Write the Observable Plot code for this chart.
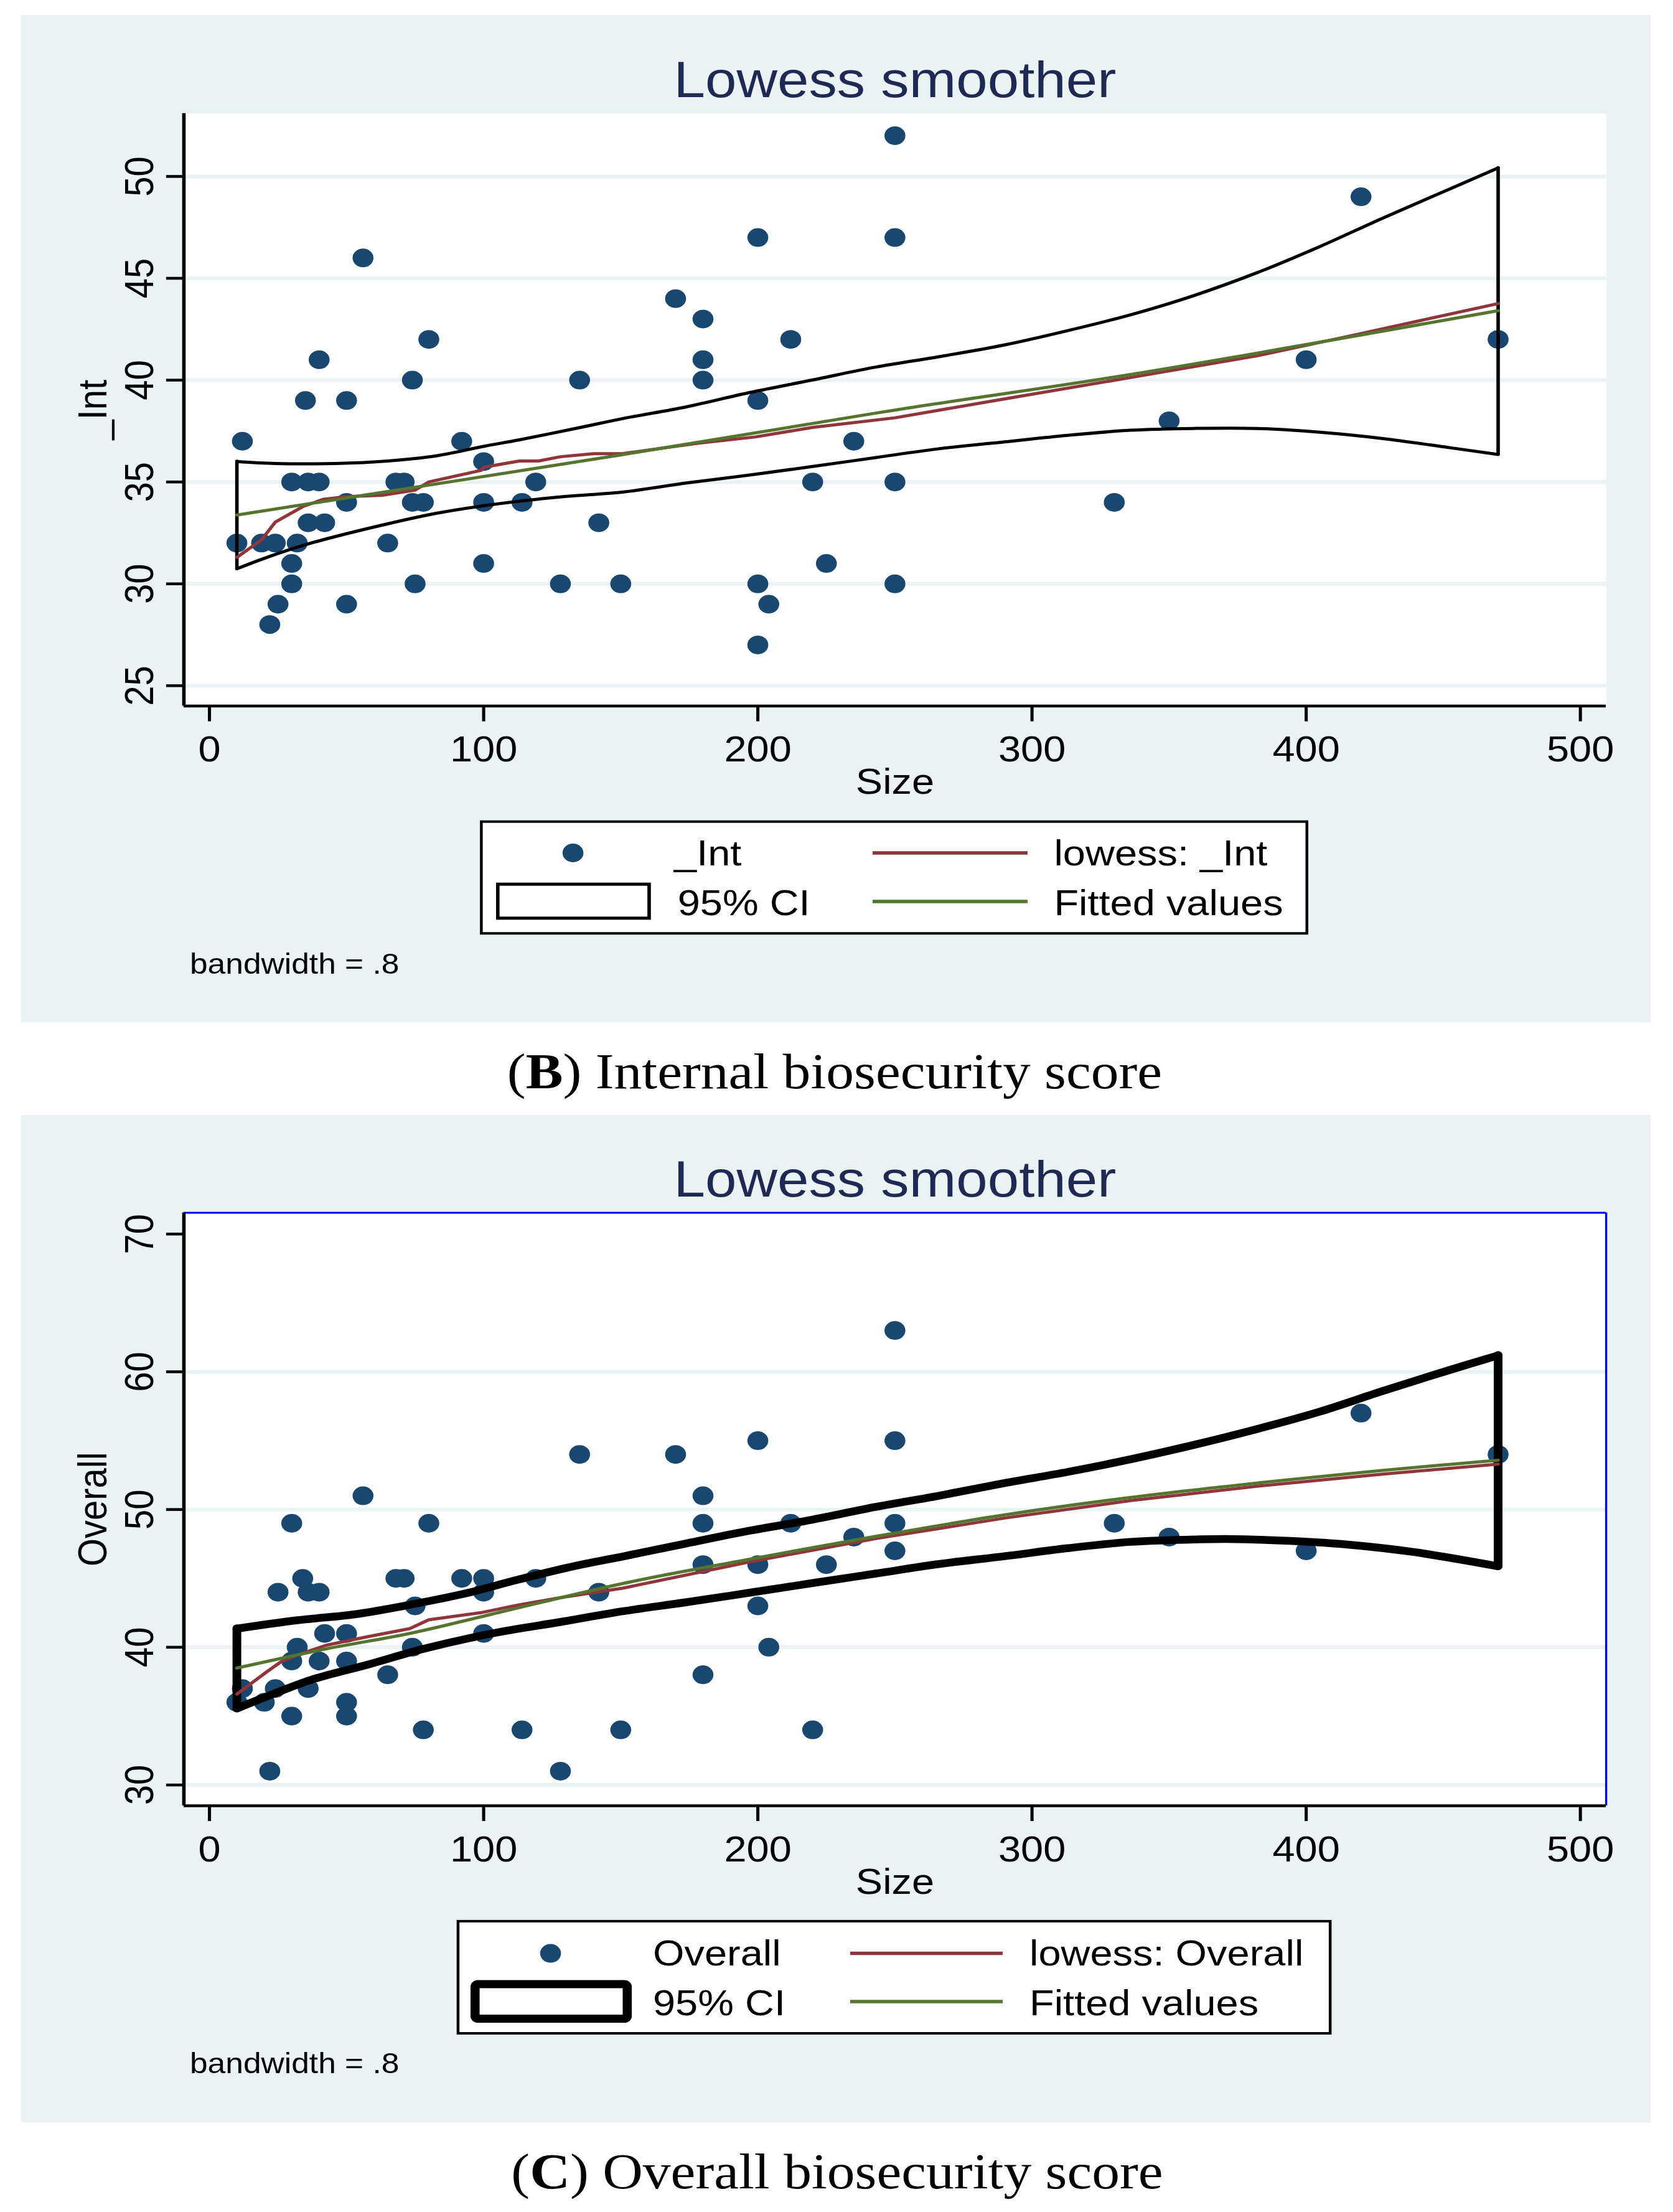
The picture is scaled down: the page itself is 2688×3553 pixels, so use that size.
<!DOCTYPE html>
<html><head><meta charset="utf-8">
<script src="https://cdn.jsdelivr.net/npm/d3@7"></script>
<script src="https://cdn.jsdelivr.net/npm/@observablehq/plot@0.6"></script>
<style>
html,body{margin:0;padding:0;background:#fff;}
body{width:2688px;height:3553px;overflow:hidden;position:relative;}
#wrap{position:absolute;left:0;top:0;width:2400px;height:3553px;transform:scaleX(1.12);transform-origin:0 0;}
#deco{position:absolute;left:0;top:0;}
.plot{position:absolute;left:0;}
</style></head><body>
<div id="wrap">
<svg id="deco" width="2400" height="3553" viewBox="0 0 2400 3553" font-family="'Liberation Sans', Arial, sans-serif">
  <rect x="30.4" y="24" width="2337.5" height="1618" fill="#eaf2f3"/>
  <rect x="30.4" y="1791" width="2337.5" height="1618" fill="#eaf2f3"/>
  <!-- legend B -->
  <rect x="690.5" y="1319.7" width="1184.3" height="179.5" fill="#fff" stroke="#000" stroke-width="4"/>
  <circle cx="822" cy="1370" r="15" fill="#1a476f"/>
  <text x="967" y="1390" font-size="58">_Int</text>
  <line x1="1251.8" x2="1474.1" y1="1370" y2="1370" stroke="#90353b" stroke-width="5.5"/>
  <text x="1512" y="1390" font-size="58">lowess: _Int</text>
  <rect x="714.1" y="1420.2" width="217.1" height="54.6" fill="#fff" stroke="#000" stroke-width="5"/>
  <text x="972" y="1470" font-size="58">95% CI</text>
  <line x1="1251.8" x2="1474.1" y1="1448" y2="1448" stroke="#55752f" stroke-width="5.5"/>
  <text x="1512" y="1470" font-size="58">Fitted values</text>
  <text x="272.3" y="1564" font-size="46">bandwidth = .8</text>
  <text x="1197.3" y="1748" text-anchor="middle" font-family="'Liberation Serif', serif" font-size="80">(<tspan font-weight="bold">B</tspan>) Internal biosecurity score</text>
  <!-- legend C -->
  <rect x="657.1" y="3085.9" width="1251.1" height="180.1" fill="#fff" stroke="#000" stroke-width="4"/>
  <circle cx="789.8" cy="3137.6" r="15" fill="#1a476f"/>
  <text x="936.6" y="3157" font-size="58">Overall</text>
  <line x1="1219.6" x2="1438.4" y1="3137.6" y2="3137.6" stroke="#90353b" stroke-width="5.5"/>
  <text x="1476.8" y="3157" font-size="58">lowess: Overall</text>
  <rect x="681.5" y="3187.1" width="218.3" height="55.4" rx="4" fill="#fff" stroke="#000" stroke-width="13"/>
  <text x="936.6" y="3237" font-size="58">95% CI</text>
  <line x1="1219.6" x2="1438.4" y1="3215" y2="3215" stroke="#55752f" stroke-width="5.5"/>
  <text x="1476.8" y="3237" font-size="58">Fitted values</text>
  <text x="272.3" y="3330.5" font-size="46">bandwidth = .8</text>
  <text x="1200.9" y="3515" text-anchor="middle" font-family="'Liberation Serif', serif" font-size="80">(<tspan font-weight="bold">C</tspan>) Overall biosecurity score</text>
</svg>
<div id="pB" class="plot" style="top:0px"></div>
<div id="pC" class="plot" style="top:1780px"></div>
</div>
<script>
// ---------- Data: panel B (Internal biosecurity score) ----------
const sizeB = [10,12,19,24,22,25,30,30,30,32,35,36,36,40,40,42,50,50,50,56,65,68,71,74,74,78,75,80,92,100,100,100,114,119,128,135,142,150,170,180,180,180,200,200,200,200,204,212,220,225,235,250,250,250,250,330,350,400,420,470];
const intB  = [32,37,32,32,28,29,35,31,30,32,39,35,33,35,41,33,39,34,29,46,32,35,35,40,34,34,30,42,37,36,34,31,34,35,30,40,33,30,44,43,41,40,47,39,30,27,29,42,35,31,37,52,47,35,30,34,38,41,49,42];

const ciHiXB = [10,24,46,65,83,100,113,134,151,174,197,220,243,266,290,313,336,359,382,405,428,452,470];
const ciHiB  = [36.01,35.91,35.91,36.03,36.29,36.75,37.07,37.64,38.12,38.69,39.39,40.01,40.64,41.15,41.73,42.43,43.21,44.15,45.27,46.56,47.96,49.36,50.42];
const ciLoXB = [10,22,36,61,83,103,129,151,174,197,220,243,266,290,313,336,359,382,405,428,452,470];
const ciLoB  = [30.74,31.35,31.96,32.82,33.47,33.89,34.28,34.51,34.95,35.34,35.76,36.2,36.63,36.97,37.29,37.54,37.63,37.63,37.44,37.13,36.69,36.35];

const lowXB = [10,19,24,34,41.5,50,63,75,80,99,100.3,113,120,128,140,151,178,199,220,250,290,336,382,417,470];
const lowYB = [31.3,32.16,33.03,33.79,34.15,34.28,34.35,34.6,35.0,35.57,35.73,36.03,36.03,36.24,36.39,36.4,36.9,37.21,37.68,38.15,39.08,40.13,41.19,42.2,43.76];

const fitXB = [10,150,250,336,470];
const fitYB = [33.38,36.33,38.53,40.28,43.41];

// ---------- Data: panel C (Overall biosecurity score) ----------
const sizeC = [10,12,20,24,22,25,30,30,30,32,34,36,36,40,40,42,50,50,50,50,56,65,68,71,74,75,78,80,92,100,100,100,114,119,128,135,142,150,170,180,180,180,180,200,200,200,204,212,220,225,235,250,250,250,250,330,350,400,420,470];
const overallC = [36,37,36,37,31,44,49,39,35,40,45,37,44,44,39,41,41,39,36,35,51,38,45,45,40,43,34,49,45,45,44,41,34,45,31,54,44,34,54,51,49,46,38,55,46,43,40,49,34,46,48,63,55,49,47,49,48,47,57,54];

const ciHiXC = [10,32,53,73,93,113,134,151,174,197,220,243,266,290,313,336,359,382,405,428,452,470];
const ciHiC  = [41.35,41.96,42.39,43.08,43.89,44.93,45.93,46.6,47.54,48.46,49.27,50.19,51.0,51.92,52.73,53.65,54.69,55.84,57.11,58.61,60.11,61.19];
const ciLoXC = [10,22,37,58,78,103,129,151,174,197,220,243,266,290,313,336,359,371,394,417,440,470];
const ciLoC  = [35.55,36.51,37.63,38.75,39.88,41.0,41.87,42.62,43.27,43.96,44.66,45.35,46.04,46.61,47.19,47.65,47.82,47.86,47.72,47.42,46.89,45.88];

const lowXC = [10,21,26,32,42.5,57,73,80,99,113,128,151,197,243,290,336,382,428,470];
const lowYC = [36.6,38.23,38.93,39.44,40.14,40.74,41.35,41.99,42.51,43.08,43.6,44.3,46.2,47.89,49.38,50.65,51.69,52.57,53.3];

const fitXC = [10,42.5,73,103,151,197,243,290,336,382,428,470];
const fitYC = [38.49,39.88,41.0,42.4,44.64,46.39,48.05,49.61,50.88,51.92,52.84,53.58];

// ---------- Axes ----------
const xTicks = [0,100,200,300,400,500];
const xDomain = [-9.33, 509.4];
const yTicksB = [25,30,35,40,45,50];
const gridB = [25,30,35,40,45,50];
const yDomainB = [24.0, 53.09];
const yTicksC = [30,40,50,60,70];
const gridC = [30,40,50,60];
const yDomainC = [28.49, 71.55];

const NAVY = "#1a476f", MAROON = "#90353b", GREEN = "#55752f", BG = "#eaf2f3", TITLE = "#1e2a54";
const zip = (xs, ys) => xs.map((x, i) => ({x, y: ys[i]}));

function panel(o) {
  const W = 2400, H = 1290;
  const pts = zip(o.sizes, o.vals);
  const hi = zip(o.hiX, o.hi), lo = zip(o.loX, o.lo);
  const edges = [
    {x: o.hiX[0], y1: o.lo[0], y2: o.hi[0]},
    {x: o.hiX[o.hiX.length - 1], y1: o.lo[o.lo.length - 1], y2: o.hi[o.hi.length - 1]}
  ];
  const marks = [
    Plot.frame({fill: "white", stroke: "none"}),
    Plot.ruleY(o.grid, {stroke: BG, strokeWidth: 6}),
    Plot.dot(pts, {x: "x", y: "y", r: 15, fill: NAVY, stroke: "none"}),
    Plot.line(hi, {x: "x", y: "y", stroke: "black", strokeWidth: o.ciW, curve: "catmull-rom", strokeLinejoin: "round"}),
    Plot.line(lo, {x: "x", y: "y", stroke: "black", strokeWidth: o.ciW, curve: "catmull-rom", strokeLinejoin: "round"}),
    Plot.ruleX(edges, {x: "x", y1: "y1", y2: "y2", stroke: "black", strokeWidth: o.ciW, strokeLinecap: "round"}),
    Plot.line(zip(o.lowX, o.lowY), {x: "x", y: "y", stroke: MAROON, strokeWidth: o.lineW, strokeLinejoin: "round"}),
    Plot.line(zip(o.fitX, o.fitY), {x: "x", y: "y", stroke: GREEN, strokeWidth: o.lineW, curve: "catmull-rom"}),
  ];
  if (o.blue) {
    marks.push(Plot.ruleY([o.yDomain[1]], {stroke: "#0000ff", strokeWidth: 3}));
    marks.push(Plot.ruleX([xDomain[1]], {stroke: "#0000ff", strokeWidth: 3}));
  }
  marks.push(
    Plot.ruleX([xDomain[0]], {stroke: "black", strokeWidth: 5}),
    Plot.ruleY([o.yDomain[0]], {stroke: "black", strokeWidth: 4.5}),
    Plot.axisX({ticks: xTicks, tickSize: 25, tickPadding: 23, fontSize: 58, label: null, strokeWidth: 4.5, tickFormat: d => String(d)}),
    Plot.axisY({ticks: o.yTicks, tickSize: 25, label: null, strokeWidth: 4.5, tickFormat: () => ""}),
    Plot.text(o.yTicks, {y: d => d, text: d => String(d), frameAnchor: "left", dx: -44.5, rotate: -90, textAnchor: "middle", lineAnchor: "bottom", fontSize: 58, fill: "black"}),
    Plot.text([o.yLabel], {text: d => d, frameAnchor: "left", dx: -111, rotate: -90, textAnchor: "middle", lineAnchor: "bottom", fontSize: 58, fill: "black"}),
    Plot.text(["Size"], {text: d => d, frameAnchor: "bottom", dy: 100, lineAnchor: "top", fontSize: 58, fill: "black"}),
    Plot.text(["Lowess smoother"], {text: d => d, frameAnchor: "top", dy: -26, lineAnchor: "bottom", fontSize: 81, fill: TITLE})
  );
  return Plot.plot({
    width: W, height: H,
    marginLeft: 263.3, marginRight: W - 2303.6,
    marginTop: o.mt, marginBottom: H - o.mt - o.ph,
    x: {domain: xDomain},
    y: {domain: o.yDomain},
    style: {background: "transparent", fontFamily: "'Liberation Sans', Arial, sans-serif", color: "black"},
    marks
  });
}

document.getElementById("pB").appendChild(panel({
  sizes: sizeB, vals: intB, hiX: ciHiXB, hi: ciHiB, loX: ciLoXB, lo: ciLoB,
  lowX: lowXB, lowY: lowYB, fitX: fitXB, fitY: fitYB,
  yDomain: yDomainB, yTicks: yTicksB, grid: gridB, yLabel: "_Int",
  ciW: 5, lineW: 5, mt: 181.8, ph: 951.8, blue: false
}));
document.getElementById("pC").appendChild(panel({
  sizes: sizeC, vals: overallC, hiX: ciHiXC, hi: ciHiC, loX: ciLoXC, lo: ciLoC,
  lowX: lowXC, lowY: lowYC, fitX: fitXC, fitY: fitYC,
  yDomain: yDomainC, yTicks: yTicksC, grid: gridC, yLabel: "Overall",
  ciW: 12.5, lineW: 5, mt: 167.4, ph: 952.6, blue: true
}));
</script>
</body></html>
